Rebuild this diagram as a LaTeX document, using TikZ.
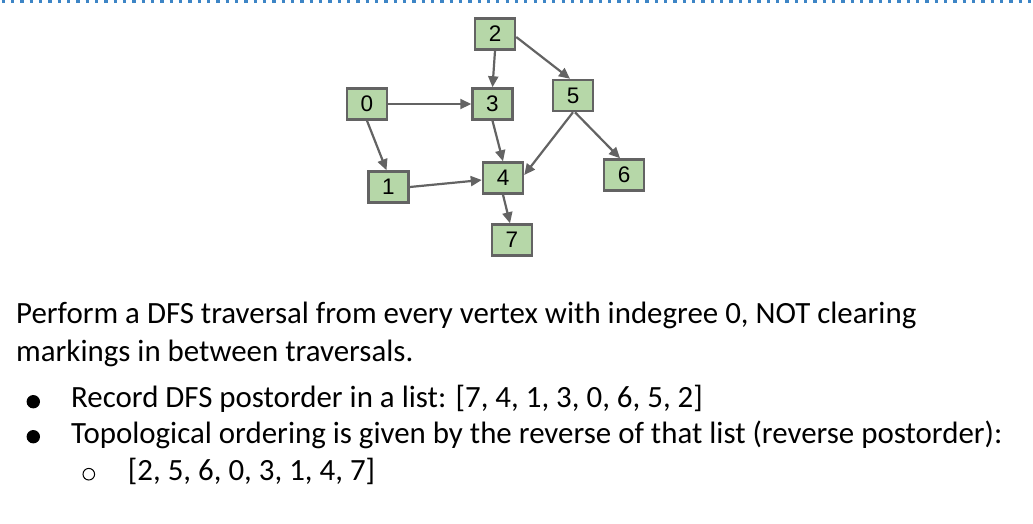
\documentclass[tikz,border=0pt]{standalone}
\usepackage{fontspec}
\setmainfont{Carlito}
\newfontfamily\nodefont{Liberation Sans}
\usetikzlibrary{arrows.meta,calc}
\definecolor{nodefill}{HTML}{B6D7A8}
\definecolor{edgegray}{HTML}{636363}
\definecolor{dotblue}{HTML}{3D85C6}
\tikzset{
  vbox/.style={draw=edgegray, line width=2.5pt, fill=nodefill, minimum width=40pt, minimum height=31pt, inner sep=0pt, font=\nodefont\fontsize{22.5}{22.5}\selectfont},
  arr/.style={draw=edgegray, line width=2.2pt, -{Triangle[length=11pt,width=10pt]}},
  bodytext/.style={anchor=base west, inner sep=0pt, font=\fontsize{30.9}{36}\selectfont}
}
\begin{document}
\begin{tikzpicture}[x=1pt,y=-1pt]
\useasboundingbox (0,0) rectangle (1033,523);
\draw[dotblue, line width=2.6pt, dash pattern=on 3.3pt off 6.03pt] (1.7,1.3) -- (1033,1.3);
% nodes
\node[vbox] (n0) at (367,104) {0};
\node[vbox] (n1) at (388.5,187) {1};
\node[vbox] (n2) at (495,34) {2};
\node[vbox] (n3) at (492.5,104) {3};
\node[vbox] (n4) at (503,178) {4};
\node[vbox] (n5) at (573,95.5) {5};
\node[vbox] (n6) at (624,175) {6};
\node[vbox] (n7) at (512,240) {7};
% edges
\draw[arr] (n2.south) -- (n3.north);
\draw[arr] ($(n2.east)+(0,3)$) -- ($(n5.north)+(-3,0)$);
\draw[arr] (n0.east) -- (n3.west);
\draw[arr] (n0.south) -- ($(n1.north)+(-2,0)$);
\draw[arr] (n3.south) -- (n4.north);
\draw[arr] (n5.south) -- ($(n4.east)+(0,-3)$);
\draw[arr] ($(n5.south)+(2,0)$) -- ($(n6.north)+(-4,0)$);
\draw[arr] (n1.east) -- ($(n4.west)+(0,2)$);
\draw[arr] (n4.south) -- ($(n7.north)+(-2,0)$);
% text
\node[bodytext] (t1) at (16,323.3) {Perform a DFS traversal from every vertex with indegree 0, NOT clearing};
\node[bodytext] (t2) at (16,361.5) {markings in between traversals.};
\fill (33.3,401.7) circle (6.7);
\node[bodytext] (t3) at (71,407.2) {Record DFS postorder in a list: [7, 4, 1, 3, 0, 6, 5, 2]};
\fill (33.3,436.7) circle (6.7);
\node[bodytext] (t4) at (71,443.3) {Topological ordering is given by the reverse of that list (reverse postorder):};
\draw[line width=1pt] (88.8,474.2) circle (5.8);
\node[bodytext] (t5) at (127.7,480) {[2, 5, 6, 0, 3, 1, 4, 7]};
\end{tikzpicture}
\end{document}
